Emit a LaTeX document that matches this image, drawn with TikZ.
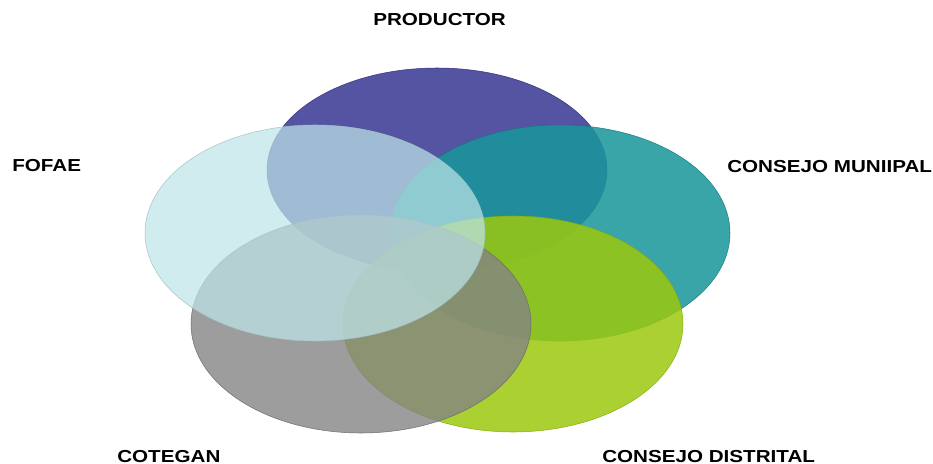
\documentclass[tikz,border=0pt]{standalone}
\usepackage{fontspec}
\setmainfont{Liberation Sans}
\newfontfamily\setlabelfont{Liberation Sans}[FakeStretch=1.19]
\usepackage{xcolor}
\usepackage{tikz}
\usetikzlibrary{positioning}

\definecolor{prodblue}{RGB}{56,56,148}
\definecolor{munteal}{RGB}{26,150,154}
\definecolor{distgreen}{RGB}{156,200,16}
\definecolor{cotgray}{RGB}{132,132,132}
\definecolor{fofcyan}{RGB}{190,228,232}

\begin{document}
\begin{tikzpicture}[x=0.75pt, y=-0.75pt, thin]
    \tikzstyle{setfill} = [fill opacity=0.86, draw opacity=0.9]
    \tikzstyle{label} = [font=\setlabelfont\bfseries\fontsize{13}{15}\selectfont, inner sep=0pt, anchor=base west]

    \useasboundingbox (0,0) rectangle (933,464);

    % the five sets, back to front
    \filldraw [setfill, fill=prodblue, draw=prodblue!80!black] (437,170) ellipse [x radius=170, y radius=102];
    \filldraw [setfill, fill=munteal, draw=munteal!80!black] (560,233) ellipse [x radius=170, y radius=108];
    \filldraw [setfill, fill=distgreen, draw=distgreen!85!black] (513,324) ellipse [x radius=170, y radius=108];
    \filldraw [setfill, fill=cotgray, fill opacity=0.8, draw=cotgray!80!black] (361,324) ellipse [x radius=170, y radius=109];
    \filldraw [setfill, fill=fofcyan, fill opacity=0.72, draw=fofcyan!85!black] (315,233) ellipse [x radius=170, y radius=108];

    % labels
    \node [label] (productor) at (373,26) {PRODUCTOR};
    \node [label] (fofae) at (12,171) {FOFAE};
    \node [label] (municipal) at (727,172) {CONSEJO MUNIIPAL};
    \node [label] (cotegan) at (117,462) {COTEGAN};
    \node [label] (distrital) at (602,462) {CONSEJO DISTRITAL};
\end{tikzpicture}
\end{document}
